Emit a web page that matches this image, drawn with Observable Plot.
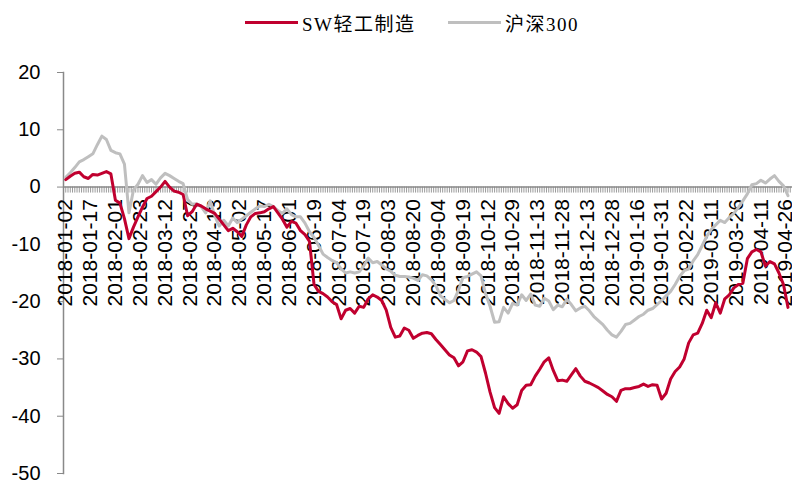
<!DOCTYPE html>
<html>
<head>
<meta charset="utf-8">
<script src="https://cdn.jsdelivr.net/npm/d3@7"></script>
<script src="https://cdn.jsdelivr.net/npm/@observablehq/plot@0.6"></script>
<style>
  body { margin: 0; background: #fff; }
  #legend { position: relative; width: 792px; height: 44px;
    font-family: "Liberation Serif", "Noto Sans CJK SC", serif; font-size: 19px; color: #000; }
  #legend .item { position: absolute; top: 0; height: 44px; display: flex; align-items: center; letter-spacing: 1.5px; }
  #legend .swatch { display: inline-block; width: 53px; height: 3px; margin-right: 4px; }
</style>
</head>
<body>
<div id="legend"></div>
<div id="chart"></div>
<script>
// Cumulative return (%) since 2018-01-02, one reading every two trading days
const sampleStep = 2;
const lastDay = 321;

const seriesNames = ["SW轻工制造", "沪深300"];
const seriesColors = ["#C0002F", "#BFBFBF"];

const swLight = [
  1.3, 1.9, 2.4, 2.6, 1.8, 1.5, 2.2, 2.1, 2.4, 2.7,
  2.3, -2.3, -2.8, -5.5, -9.0, -7.0, -5.2, -3.5, -2.0, -1.6,
  -0.8, 0.0, 1.0, 0.0, -0.7, -0.9, -1.3, -5.0, -4.3, -3.0,
  -3.3, -3.8, -4.2, -4.6, -5.6, -6.6, -7.6, -7.2, -7.8, -8.6,
  -6.6, -5.2, -4.6, -4.5, -4.3, -3.8, -3.4, -4.5, -5.6, -7.0,
  -6.0, -6.3, -7.6, -8.3, -9.5, -17.0, -18.2, -18.6, -19.2, -20.0,
  -20.5, -23.0, -21.5, -21.2, -22.0, -20.8, -21.0, -19.5, -18.8, -19.2,
  -19.8, -21.5, -24.5, -26.2, -26.0, -24.6, -25.0, -26.4, -25.9, -25.5,
  -25.4, -25.6, -26.6, -27.5, -28.4, -29.3, -29.8, -31.2, -30.5, -28.6,
  -28.4, -28.8, -29.6, -32.5, -35.8, -38.5, -39.5, -36.6, -37.8, -38.6,
  -38.0, -35.5, -34.6, -34.5, -33.0, -31.8, -30.5, -29.8, -32.0, -33.8,
  -33.7, -33.9, -32.8, -31.7, -33.0, -33.9, -34.2, -34.6, -35.0, -35.6,
  -36.2, -36.6, -37.4, -35.5, -35.2, -35.2, -35.0, -34.8, -34.4, -34.8,
  -34.5, -34.6, -37.0, -36.0, -33.5, -32.2, -31.4, -30.0, -27.2, -25.8,
  -25.5, -23.8, -21.5, -22.8, -20.2, -22.0, -19.5, -18.8, -17.6, -17.0,
  -16.8, -12.5, -11.3, -10.9, -11.3, -13.8, -13.0, -13.4, -15.0, -17.0,
  -21.0
];

const hs300 = [
  1.7, 2.5, 3.4, 4.4, 4.8, 5.3, 5.8, 7.4, 8.9, 8.3,
  6.4, 6.0, 5.8, 4.0, -4.5, -0.5, 0.5, 2.0, 0.8, 1.3,
  0.5, 1.6, 2.4, 2.0, 1.5, 1.0, 0.6, -2.2, -3.0, -2.9,
  -3.4, -4.5, -2.4, -5.0, -6.8, -5.8, -6.8, -5.4, -6.2, -5.6,
  -5.0, -4.4, -3.8, -3.3, -3.4, -3.0, -3.4, -4.1, -4.6, -3.8,
  -4.8, -5.2, -5.2, -6.3, -7.8, -8.8, -10.2, -11.7, -12.3, -12.8,
  -13.2, -14.3, -15.0, -14.8, -15.0, -14.8, -13.8, -12.4, -13.2, -13.0,
  -13.6, -14.3, -14.7, -15.4, -15.6, -15.6, -15.7, -15.9, -16.3, -15.3,
  -15.5, -16.2, -17.2, -19.0, -19.6, -20.2, -19.8, -18.0, -15.8, -15.6,
  -15.2, -14.8, -15.5, -18.6, -20.8, -23.6, -23.5, -21.0, -22.0, -20.3,
  -20.6, -18.8, -19.8, -18.7, -20.6, -20.8, -19.4, -19.9, -21.4, -20.6,
  -20.9, -19.6, -20.5, -21.6, -21.1, -20.8, -21.6, -22.6, -23.3, -24.0,
  -25.0, -25.8, -26.2, -25.2, -24.0, -23.8, -23.2, -22.6, -22.2, -21.5,
  -21.2, -20.5, -19.8, -19.0, -18.2, -17.0, -15.6, -14.6, -14.3, -12.9,
  -11.8, -10.2, -8.6, -7.4, -6.6, -5.8, -6.2, -5.3, -4.6, -3.6,
  -2.4, -1.2, 0.4, 0.6, 1.2, 0.7, 1.4, 2.0, 1.0, 0.2,
  -1.5
];

// Category labels, shown every 11 trading days
const labelStep = 11;
const dateLabels = [
  "2018-01-02", "2018-01-17", "2018-02-01", "2018-02-23", "2018-03-12",
  "2018-03-27", "2018-04-13", "2018-05-02", "2018-05-17", "2018-06-01",
  "2018-06-19", "2018-07-04", "2018-07-19", "2018-08-03", "2018-08-20",
  "2018-09-04", "2018-09-19", "2018-10-12", "2018-10-29", "2018-11-13",
  "2018-11-28", "2018-12-13", "2018-12-28", "2019-01-16", "2019-01-31",
  "2019-02-22", "2019-03-11", "2019-03-26", "2019-04-11", "2019-04-26"
];

const yTicks = [20, 10, 0, -10, -20, -30, -40, -50];

// Legend
const legend = document.getElementById("legend");
const legendLeft = [245, 448];
seriesNames.forEach((name, i) => {
  const item = document.createElement("div");
  item.className = "item";
  item.style.left = legendLeft[i] + "px";
  const sw = document.createElement("span");
  sw.className = "swatch";
  sw.style.background = seriesColors[i];
  item.appendChild(sw);
  item.appendChild(document.createTextNode(name));
  legend.appendChild(item);
});

const days = d3.range(0, lastDay + 1);
const labelData = dateLabels.map((label, i) => ({day: i * labelStep, label}));
const axisGray = "#898989";

const chart = Plot.plot({
  width: 792,
  height: 438,
  marginTop: 28,
  marginBottom: 9,
  marginLeft: 63,
  marginRight: 0,
  style: {fontFamily: "'Liberation Sans', Arial, sans-serif", background: "#fff", color: "#000", overflow: "visible"},
  x: {domain: [-1, lastDay + 1], axis: null},
  y: {domain: [-50, 20], axis: null},
  marks: [
    Plot.frame({anchor: "left", stroke: axisGray, strokeWidth: 1.5}),
    Plot.axisY(yTicks, {tickSize: 6, tickPadding: 17, stroke: axisGray, fill: "#000", fontSize: 20, tickFormat: d => String(d)}),
    // category tick marks hanging below the zero line
    Plot.ruleX(days, {x: d => d, y1: 0, y2: 0, insetBottom: -6, stroke: "#9a9a9a", strokeWidth: 1}),
    Plot.ruleY([0], {stroke: axisGray, strokeWidth: 1.5}),
    Plot.text(labelData, {
      x: "day", y: 0, text: "label", rotate: -90, textAnchor: "end",
      lineAnchor: "middle", dy: 12, fontSize: 21, fill: "#000"
    }),
    Plot.lineY(hs300, {x: (d, i) => i * sampleStep, y: d => d, stroke: seriesColors[1], strokeWidth: 3, strokeLinejoin: "round"}),
    Plot.lineY(swLight, {x: (d, i) => i * sampleStep, y: d => d, stroke: seriesColors[0], strokeWidth: 3, strokeLinejoin: "round"})
  ]
});
document.getElementById("chart").appendChild(chart);
</script>
</body>
</html>
